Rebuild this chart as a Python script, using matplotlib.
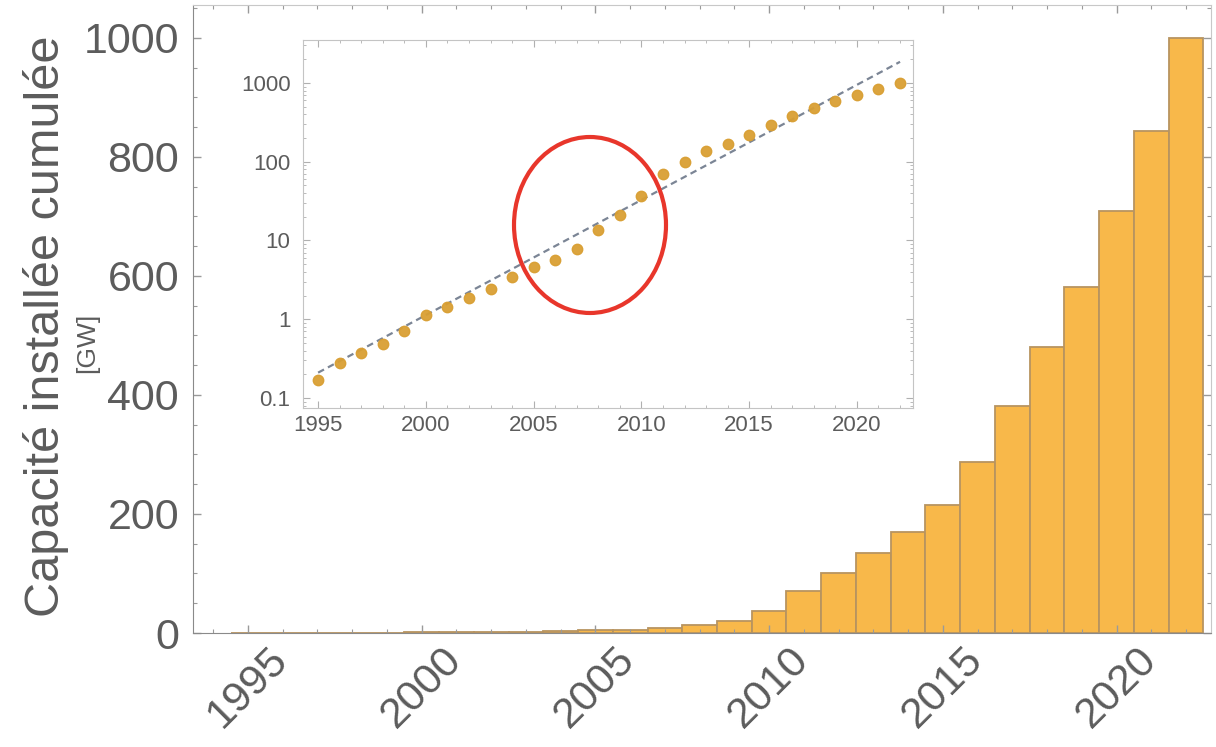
import numpy as np
import matplotlib.pyplot as plt
from matplotlib.patches import Ellipse
from matplotlib.ticker import MultipleLocator, LogLocator, NullFormatter

plt.rcParams['font.family'] = ['Liberation Sans', 'DejaVu Sans']

years = np.arange(1995, 2023)
# cumulative installed PV capacity, GW
capacity = [0.17, 0.28, 0.37, 0.49, 0.70, 1.12, 1.43, 1.86, 2.4, 3.4,
            4.6, 5.6, 7.9, 13.4, 21, 37, 70, 100, 135, 170,
            215, 288, 382, 481, 581, 709, 843, 1000]
# exponential fit parameters (value in 1995, yearly growth factor)
fit_v0 = 0.21
fit_growth = 1.40

bar_color = '#f8b84a'
bar_edge = '#b89460'
dot_color = '#d99f33'
text_color = '#5c5c5c'
frame_color = '#9a9a9a'

fig = plt.figure(figsize=(12.16, 7.47), dpi=100)
ax = fig.add_axes([0.1587, 0.1526, 0.8373, 0.8407])

ax.bar(years, capacity, width=1.0, color=bar_color, edgecolor=bar_edge, linewidth=1.3)
ax.set_xlim(1993.42, 2022.72)
ax.set_ylim(0, 1055)
ax.xaxis.set_minor_locator(MultipleLocator(1))
ax.yaxis.set_major_locator(MultipleLocator(200))
ax.yaxis.set_minor_locator(MultipleLocator(50))
ax.set_xticks([1995, 2000, 2005, 2010, 2015, 2020])
ax.tick_params(axis='both', which='both', direction='in', colors=frame_color,
               top=True, right=True, labelcolor=text_color)
ax.tick_params(axis='both', which='major', length=6, width=1)
ax.tick_params(axis='both', which='minor', length=3, width=0.8)
ax.tick_params(axis='y', labelsize=31, pad=10)
ax.tick_params(axis='x', labelsize=31, pad=5)
for lbl in ax.get_xticklabels():
    lbl.set_rotation(45)
    lbl.set_ha('center')
    lbl.set_va('top')
for side in ['left', 'bottom']:
    ax.spines[side].set_color('#8a8a8a')
for side in ['top', 'right']:
    ax.spines[side].set_color('#c8c8c8')

fig.text(0.0378, 0.5636, 'Capacité installée cumulée', rotation=90, fontsize=35,
         color=text_color, ha='center', va='center')
fig.text(0.0715, 0.5408, '[GW]', rotation=90, fontsize=19,
         color=text_color, ha='center', va='center')

# log-scale inset
ins = fig.add_axes([0.2492, 0.4538, 0.5016, 0.4926])
ins.set_yscale('log')
ins.plot(years, fit_v0 * fit_growth ** (years - 1995), ls=(0, (3, 2)),
         color='#7b8595', lw=1.6, zorder=2)
ins.plot(years, capacity, 'o', color=dot_color, ms=7.5, alpha=0.95, zorder=3)
ins.set_xlim(1994.3, 2022.6)
ins.set_ylim(0.0747, 3500)
ins.set_xticks([1995, 2000, 2005, 2010, 2015, 2020])
ins.xaxis.set_minor_locator(MultipleLocator(1))
ins.set_yticks([0.1, 1, 10, 100, 1000])
ins.set_yticklabels(['0.1', '1', '10', '100', '1000'])
ins.yaxis.set_minor_locator(LogLocator(base=10, subs=np.arange(2, 10)))
ins.yaxis.set_minor_formatter(NullFormatter())
ins.tick_params(axis='both', which='both', direction='in', colors='#b0b0b0',
                top=True, right=True, labelcolor=text_color, labelsize=16)
ins.tick_params(axis='y', pad=9)
ins.tick_params(axis='x', pad=5)
ins.tick_params(axis='both', which='major', length=5)
ins.tick_params(axis='both', which='minor', length=2.5)
for s in ins.spines.values():
    s.set_color('#c4c4c4')

fig.add_artist(Ellipse((0.4852, 0.6988), 0.125, 0.2356, transform=fig.transFigure,
                       fill=False, edgecolor='#e8362b', lw=3, zorder=10))

fig.savefig('out.png', dpi=100)
